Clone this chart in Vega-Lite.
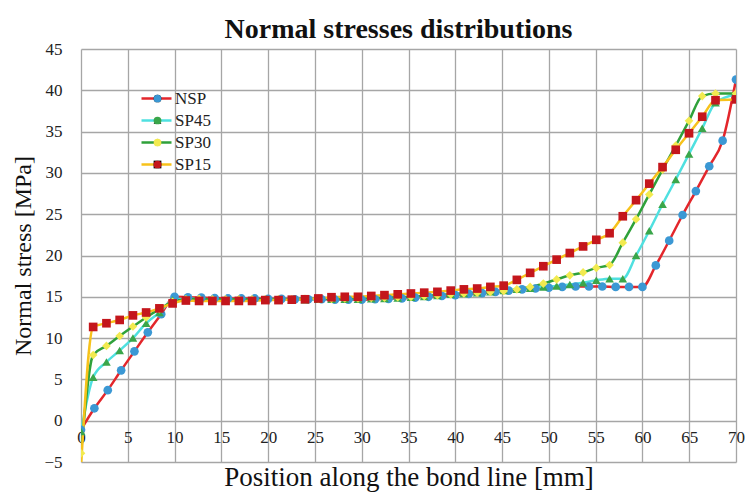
{
  "$schema": "https://vega.github.io/schema/vega-lite/v6.json",
  "width": 655,
  "height": 413,
  "autosize": "none",
  "padding": {"left": 81, "top": 49, "right": 12, "bottom": 33},
  "background": "white",
  "title": {"text": "Normal stresses distributions", "font": "Liberation Serif", "fontSize": 28, "fontWeight": "bold", "color": "#111111", "anchor": "middle", "dx": -10, "dy": 12, "offset": 8},
  "config": {
    "view": {"stroke": null},
    "style": {"guide-label": {"font": "Liberation Serif"}, "guide-title": {"font": "Liberation Serif"}},
    "axis": {"labelFont": "Liberation Serif", "titleFont": "Liberation Serif", "labelColor": "#222222", "titleColor": "#111111", "titleFontWeight": "normal", "gridColor": "#a6a6a6", "gridWidth": 1.3, "gridOpacity": 1},
    "legend": {"labelFont": "Liberation Serif", "labelFontSize": 17, "labelColor": "#222222"}
  },
  "data": {"values": [
    {"series":"NSP","position":0,"stress":-1.1},{"series":"NSP","position":1.43,"stress":1.5},{"series":"NSP","position":2.86,"stress":3.7},{"series":"NSP","position":4.29,"stress":6.1},{"series":"NSP","position":5.71,"stress":8.4},{"series":"NSP","position":7.14,"stress":10.7},{"series":"NSP","position":8.57,"stress":12.9},{"series":"NSP","position":10,"stress":15.0},{"series":"NSP","position":11.43,"stress":14.95},{"series":"NSP","position":12.86,"stress":14.9},{"series":"NSP","position":14.29,"stress":14.85},{"series":"NSP","position":15.71,"stress":14.8},{"series":"NSP","position":17.14,"stress":14.8},{"series":"NSP","position":18.57,"stress":14.8},{"series":"NSP","position":20,"stress":14.75},{"series":"NSP","position":21.43,"stress":14.75},{"series":"NSP","position":22.86,"stress":14.7},{"series":"NSP","position":24.29,"stress":14.7},{"series":"NSP","position":25.71,"stress":14.7},{"series":"NSP","position":27.14,"stress":14.65},{"series":"NSP","position":28.57,"stress":14.65},{"series":"NSP","position":30,"stress":14.65},{"series":"NSP","position":31.43,"stress":14.7},{"series":"NSP","position":32.86,"stress":14.75},{"series":"NSP","position":34.29,"stress":14.8},{"series":"NSP","position":35.71,"stress":14.9},{"series":"NSP","position":37.14,"stress":15.0},{"series":"NSP","position":38.57,"stress":15.1},{"series":"NSP","position":40,"stress":15.2},{"series":"NSP","position":41.43,"stress":15.35},{"series":"NSP","position":42.86,"stress":15.45},{"series":"NSP","position":44.29,"stress":15.6},{"series":"NSP","position":45.71,"stress":15.75},{"series":"NSP","position":47.14,"stress":15.9},{"series":"NSP","position":48.57,"stress":16.0},{"series":"NSP","position":50,"stress":16.1},{"series":"NSP","position":51.43,"stress":16.2},{"series":"NSP","position":52.86,"stress":16.25},{"series":"NSP","position":54.29,"stress":16.25},{"series":"NSP","position":55.71,"stress":16.25},{"series":"NSP","position":57.14,"stress":16.2},{"series":"NSP","position":58.57,"stress":16.2},{"series":"NSP","position":60,"stress":16.2},{"series":"NSP","position":61.43,"stress":18.8},{"series":"NSP","position":62.86,"stress":21.8},{"series":"NSP","position":64.29,"stress":24.9},{"series":"NSP","position":65.71,"stress":27.8},{"series":"NSP","position":67.14,"stress":30.8},{"series":"NSP","position":68.57,"stress":33.9},{"series":"NSP","position":70,"stress":41.3},
    {"series":"SP45","position":0,"stress":-1.3},{"series":"SP45","position":1.3,"stress":5.25},{"series":"SP45","position":2.72,"stress":7.1},{"series":"SP45","position":4.13,"stress":8.5},{"series":"SP45","position":5.55,"stress":10.0},{"series":"SP45","position":6.96,"stress":11.8},{"series":"SP45","position":8.38,"stress":13.1},{"series":"SP45","position":9.79,"stress":14.6},{"series":"SP45","position":11.21,"stress":14.8},{"series":"SP45","position":12.62,"stress":14.7},{"series":"SP45","position":14.04,"stress":14.7},{"series":"SP45","position":15.45,"stress":14.65},{"series":"SP45","position":16.87,"stress":14.65},{"series":"SP45","position":18.28,"stress":14.65},{"series":"SP45","position":19.7,"stress":14.65},{"series":"SP45","position":21.11,"stress":14.65},{"series":"SP45","position":22.53,"stress":14.65},{"series":"SP45","position":23.94,"stress":14.65},{"series":"SP45","position":25.36,"stress":14.7},{"series":"SP45","position":26.77,"stress":14.7},{"series":"SP45","position":28.19,"stress":14.7},{"series":"SP45","position":29.6,"stress":14.7},{"series":"SP45","position":31.02,"stress":14.75},{"series":"SP45","position":32.43,"stress":14.8},{"series":"SP45","position":33.85,"stress":14.85},{"series":"SP45","position":35.26,"stress":14.95},{"series":"SP45","position":36.68,"stress":15.05},{"series":"SP45","position":38.09,"stress":15.15},{"series":"SP45","position":39.51,"stress":15.3},{"series":"SP45","position":40.92,"stress":15.4},{"series":"SP45","position":42.34,"stress":15.5},{"series":"SP45","position":43.75,"stress":15.6},{"series":"SP45","position":45.17,"stress":15.75},{"series":"SP45","position":46.58,"stress":15.9},{"series":"SP45","position":48.0,"stress":16.05},{"series":"SP45","position":49.41,"stress":16.2},{"series":"SP45","position":50.83,"stress":16.3},{"series":"SP45","position":52.24,"stress":16.5},{"series":"SP45","position":53.66,"stress":16.7},{"series":"SP45","position":55.07,"stress":17.0},{"series":"SP45","position":56.49,"stress":17.2},{"series":"SP45","position":57.9,"stress":17.2},{"series":"SP45","position":59.32,"stress":20.0},{"series":"SP45","position":60.73,"stress":23.0},{"series":"SP45","position":62.15,"stress":26.2},{"series":"SP45","position":63.56,"stress":29.2},{"series":"SP45","position":64.98,"stress":32.3},{"series":"SP45","position":66.39,"stress":35.4},{"series":"SP45","position":67.81,"stress":38.5},{"series":"SP45","position":70,"stress":39.5},
    {"series":"SP30","position":0,"stress":-3.95},{"series":"SP30","position":1.3,"stress":7.95},{"series":"SP30","position":2.72,"stress":9.05},{"series":"SP30","position":4.13,"stress":10.25},{"series":"SP30","position":5.55,"stress":11.4},{"series":"SP30","position":6.96,"stress":12.5},{"series":"SP30","position":8.38,"stress":13.5},{"series":"SP30","position":9.79,"stress":14.4},{"series":"SP30","position":11.21,"stress":14.7},{"series":"SP30","position":12.62,"stress":14.75},{"series":"SP30","position":14.04,"stress":14.7},{"series":"SP30","position":15.45,"stress":14.7},{"series":"SP30","position":16.87,"stress":14.7},{"series":"SP30","position":18.28,"stress":14.7},{"series":"SP30","position":19.7,"stress":14.7},{"series":"SP30","position":21.11,"stress":14.7},{"series":"SP30","position":22.53,"stress":14.7},{"series":"SP30","position":23.94,"stress":14.75},{"series":"SP30","position":25.36,"stress":14.75},{"series":"SP30","position":26.77,"stress":14.75},{"series":"SP30","position":28.19,"stress":14.8},{"series":"SP30","position":29.6,"stress":14.8},{"series":"SP30","position":31.02,"stress":14.85},{"series":"SP30","position":32.43,"stress":14.9},{"series":"SP30","position":33.85,"stress":14.95},{"series":"SP30","position":35.26,"stress":15.0},{"series":"SP30","position":36.68,"stress":15.1},{"series":"SP30","position":38.09,"stress":15.2},{"series":"SP30","position":39.51,"stress":15.3},{"series":"SP30","position":40.92,"stress":15.4},{"series":"SP30","position":42.34,"stress":15.5},{"series":"SP30","position":43.75,"stress":15.6},{"series":"SP30","position":45.17,"stress":15.7},{"series":"SP30","position":46.58,"stress":15.9},{"series":"SP30","position":48.0,"stress":16.2},{"series":"SP30","position":49.41,"stress":16.6},{"series":"SP30","position":50.83,"stress":17.1},{"series":"SP30","position":52.24,"stress":17.6},{"series":"SP30","position":53.66,"stress":17.95},{"series":"SP30","position":55.07,"stress":18.5},{"series":"SP30","position":56.49,"stress":18.85},{"series":"SP30","position":57.9,"stress":21.55},{"series":"SP30","position":59.32,"stress":24.4},{"series":"SP30","position":60.73,"stress":27.4},{"series":"SP30","position":62.15,"stress":30.4},{"series":"SP30","position":63.56,"stress":33.3},{"series":"SP30","position":64.98,"stress":36.3},{"series":"SP30","position":66.39,"stress":39.3},{"series":"SP30","position":67.81,"stress":39.6},{"series":"SP30","position":70,"stress":39.6},
    {"series":"SP15","position":0,"stress":-5.6},{"series":"SP15","position":1.3,"stress":11.35},{"series":"SP15","position":2.72,"stress":11.8},{"series":"SP15","position":4.13,"stress":12.2},{"series":"SP15","position":5.55,"stress":12.75},{"series":"SP15","position":6.96,"stress":13.1},{"series":"SP15","position":8.38,"stress":13.6},{"series":"SP15","position":9.79,"stress":14.2},{"series":"SP15","position":11.21,"stress":14.55},{"series":"SP15","position":12.62,"stress":14.5},{"series":"SP15","position":14.04,"stress":14.5},{"series":"SP15","position":15.45,"stress":14.5},{"series":"SP15","position":16.87,"stress":14.5},{"series":"SP15","position":18.28,"stress":14.5},{"series":"SP15","position":19.7,"stress":14.6},{"series":"SP15","position":21.11,"stress":14.6},{"series":"SP15","position":22.53,"stress":14.65},{"series":"SP15","position":23.94,"stress":14.7},{"series":"SP15","position":25.36,"stress":14.8},{"series":"SP15","position":26.77,"stress":14.95},{"series":"SP15","position":28.19,"stress":15.0},{"series":"SP15","position":29.6,"stress":15.0},{"series":"SP15","position":31.02,"stress":15.1},{"series":"SP15","position":32.43,"stress":15.2},{"series":"SP15","position":33.85,"stress":15.3},{"series":"SP15","position":35.26,"stress":15.4},{"series":"SP15","position":36.68,"stress":15.5},{"series":"SP15","position":38.09,"stress":15.6},{"series":"SP15","position":39.51,"stress":15.75},{"series":"SP15","position":40.92,"stress":15.9},{"series":"SP15","position":42.34,"stress":16.0},{"series":"SP15","position":43.75,"stress":16.2},{"series":"SP15","position":45.17,"stress":16.35},{"series":"SP15","position":46.58,"stress":17.05},{"series":"SP15","position":48.0,"stress":17.9},{"series":"SP15","position":49.41,"stress":18.7},{"series":"SP15","position":50.83,"stress":19.5},{"series":"SP15","position":52.24,"stress":20.3},{"series":"SP15","position":53.66,"stress":21.1},{"series":"SP15","position":55.07,"stress":21.9},{"series":"SP15","position":56.49,"stress":22.7},{"series":"SP15","position":57.9,"stress":24.75},{"series":"SP15","position":59.32,"stress":26.7},{"series":"SP15","position":60.73,"stress":28.7},{"series":"SP15","position":62.15,"stress":30.7},{"series":"SP15","position":63.56,"stress":32.8},{"series":"SP15","position":64.98,"stress":34.8},{"series":"SP15","position":66.39,"stress":36.8},{"series":"SP15","position":67.81,"stress":38.8},{"series":"SP15","position":70,"stress":38.9}
  ]},
  "encoding": {
    "x": {"field": "position", "type": "quantitative", "scale": {"domain": [0, 70], "nice": false},
      "axis": {"values": [0,5,10,15,20,25,30,35,40,45,50,55,60,65,70], "title": "Position along the bond line [mm]", "offset": -41.3, "grid": true, "ticks": false, "tickSize": 0, "domain": false, "labelPadding": 9, "labelFont": "Liberation Serif", "labelFontSize": 17, "titleFont": "Liberation Serif", "titleFontSize": 27, "titlePadding": 19, "labelFlush": false}},
    "y": {"field": "stress", "type": "quantitative", "scale": {"domain": [-5, 45], "nice": false},
      "axis": {"values": [-5,0,5,10,15,20,25,30,35,40,45], "title": "Normal stress [MPa]", "grid": true, "ticks": false, "tickSize": 0, "domain": false, "labelPadding": 19, "labelFont": "Liberation Serif", "labelFontSize": 17, "titleFont": "Liberation Serif", "titleFontSize": 24, "titlePadding": 8}}
  },
  "layer": [
    {
      "mark": {"type": "line", "interpolate": "monotone", "strokeWidth": 2.5, "clip": true},
      "encoding": {
        "stroke": {"field": "series", "type": "nominal",
          "scale": {"domain": ["NSP", "SP45", "SP30", "SP15"], "range": ["#e3262b", "#4fe0e0", "#2fa13a", "#f7c21b"]},
          "legend": {"orient": "none", "legendX": 67, "legendY": 41, "symbolType": "M-3,0H3", "symbolSize": 100, "symbolStrokeWidth": 2.5, "title": null, "rowPadding": 4, "labelOffset": 10, "labelFont": "Liberation Serif", "labelFontSize": 17}}
      }
    },
    {
      "mark": {"type": "point", "filled": true, "size": 75, "opacity": 1, "clip": true},
      "encoding": {
        "fill": {"field": "series", "type": "nominal", "sort": ["NSP", "SP45", "SP30", "SP15"],
          "scale": {"range": ["#3b98d4", "#3aa64a", "#f2ea50", "#c4161c"]},
          "legend": {"orient": "none", "legendX": 68, "legendY": 41, "title": null, "rowPadding": 4, "labelOpacity": 0, "symbolSize": 60, "labelFontSize": 17}},
        "shape": {"field": "series", "type": "nominal", "sort": ["NSP", "SP45", "SP30", "SP15"],
          "scale": {"range": ["circle", "triangle-up", "diamond", "square"]},
          "legend": {"orient": "none", "legendX": 68, "legendY": 41, "title": null, "rowPadding": 4, "labelOpacity": 0, "symbolSize": 60, "labelFontSize": 17}}
      }
    }
  ]
}
